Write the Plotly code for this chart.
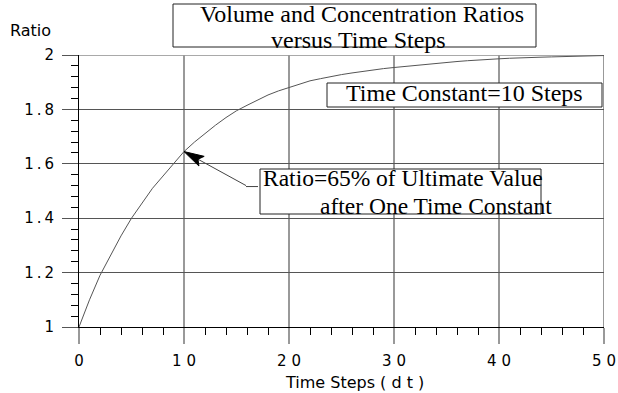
import plotly.graph_objects as go

# ---- data ----
time_steps = [0, 1, 2, 3, 4, 5, 6, 7, 8, 9, 10, 11, 12, 13, 14, 15, 16, 17, 18, 19, 20,
              21, 22, 23, 24, 25, 26, 27, 28, 29, 30, 31, 32, 33, 34, 35, 36, 37, 38, 39, 40,
              41, 42, 43, 44, 45, 46, 47, 48, 49, 50]
ratio = [1.000, 1.100, 1.190, 1.265, 1.335, 1.400, 1.455, 1.510, 1.555, 1.600, 1.645,
         1.680, 1.712, 1.742, 1.770, 1.795, 1.815, 1.835, 1.853, 1.868, 1.880,
         1.893, 1.905, 1.913, 1.921, 1.928, 1.934, 1.940, 1.945, 1.950, 1.954,
         1.958, 1.962, 1.966, 1.970, 1.973, 1.976, 1.979, 1.982, 1.984, 1.986,
         1.988, 1.990, 1.991, 1.992, 1.993, 1.994, 1.995, 1.996, 1.997, 1.998]

x_tick_vals = [0, 10, 20, 30, 40, 50]
x_tick_text = ["0", "1 0", "2 0", "3 0", "4 0", "5 0"]
y_tick_vals = [1, 1.2, 1.4, 1.6, 1.8, 2]
y_tick_text = ["1", "1\u2009.\u20092", "1\u2009.\u20094", "1\u2009.\u20096", "1\u2009.\u20098", "2"]

title_lines = ["Volume and Concentration Ratios", "versus Time Steps"]
tc_label = "Time Constant=10 Steps"
note_lines = ["Ratio=65% of Ultimate Value", "after One Time Constant"]
x_title = "Time Steps ( d t )"
y_title = "Ratio"
marked_step = 10

# ---- layout helpers (pixel -> paper) ----
L, R, T, B = 79, 604, 55, 327
W, H = 618, 393
X_RANGE = [0, 50]
Y_RANGE = [1, 2]


def PX(x):
    return (x - L) / (R - L)


def PY(y):
    return (B - y) / (B - T)


def data_to_px(xv, yv):
    px = L + (xv - X_RANGE[0]) / (X_RANGE[1] - X_RANGE[0]) * (R - L)
    py = B - (yv - Y_RANGE[0]) / (Y_RANGE[1] - Y_RANGE[0]) * (B - T)
    return px, py


SERIF = "Liberation Serif, Times New Roman, serif"
SANS = "DejaVu Sans, Arial, sans-serif"

fig = go.Figure()
fig.add_trace(go.Scatter(x=time_steps, y=ratio, mode="lines",
                         line=dict(color="#555555", width=1), hoverinfo="skip",
                         showlegend=False))

shapes = []
# right and top borders
shapes.append(dict(type="line", xref="x", yref="y", x0=50, x1=50, y0=1, y1=2,
                   line=dict(color="#999999", width=2), layer="below"))
shapes.append(dict(type="line", xref="x", yref="y", x0=0, x1=50, y0=2, y1=2,
                   line=dict(color="#555555", width=1), layer="below"))
# boxes
shapes.append(dict(type="rect", xref="paper", yref="paper", x0=PX(173), x1=PX(536),
                   y0=PY(47), y1=PY(4), line=dict(color="#222222", width=1),
                   fillcolor="white", layer="above"))
shapes.append(dict(type="rect", xref="paper", yref="paper", x0=PX(327), x1=PX(602),
                   y0=PY(107), y1=PY(83), line=dict(color="#222222", width=1),
                   fillcolor="white", layer="above"))
shapes.append(dict(type="rect", xref="paper", yref="paper", x0=PX(260), x1=PX(541),
                   y0=PY(214), y1=PY(169), line=dict(color="#222222", width=1),
                   fillcolor="white", layer="above"))

# arrow: tail mark, shaft and a slim filled head at the marked point
tip_x, tip_y = data_to_px(time_steps[marked_step], ratio[marked_step])
tail_dx, tail_dy = 62, 34
tail_x, tail_y = tip_x + tail_dx, tip_y + tail_dy
shapes.append(dict(type="line", xref="paper", yref="paper", x0=PX(tail_x), x1=PX(tail_x + 12),
                   y0=PY(tail_y + 1), y1=PY(tail_y + 1), line=dict(color="#444444", width=1),
                   layer="above"))
shapes.append(dict(type="line", xref="paper", yref="paper", x0=PX(tail_x), x1=PX(tip_x + 8),
                   y0=PY(tail_y), y1=PY(tip_y + 8 * tail_dy / tail_dx),
                   line=dict(color="#444444", width=1), layer="above"))
norm = (tail_dx ** 2 + tail_dy ** 2) ** 0.5
ux, uy = tail_dx / norm, tail_dy / norm
head_len, head_half = 20, 5.5
bx, by = tip_x + ux * head_len, tip_y + uy * head_len
p1 = (bx - uy * head_half, by + ux * head_half)
p2 = (bx + uy * head_half, by - ux * head_half)
pn = (tip_x + ux * head_len * 0.8, tip_y + uy * head_len * 0.8)
path = "M{},{} L{},{} L{},{} L{},{} Z".format(
    PX(tip_x), PY(tip_y), PX(p1[0]), PY(p1[1]), PX(pn[0]), PY(pn[1]), PX(p2[0]), PY(p2[1]))
shapes.append(dict(type="path", xref="paper", yref="paper", path=path,
                   fillcolor="black", line=dict(color="black", width=1), layer="above"))

annotations = []


def text_ann(text, x, y, xanchor="center", size=24, family=SERIF):
    annotations.append(dict(text=text, x=PX(x), y=PY(y), xref="paper", yref="paper",
                            xanchor=xanchor, yanchor="middle", showarrow=False,
                            font=dict(family=family, size=size, color="black")))


text_ann(title_lines[0], 362, 14)
text_ann(title_lines[1], 358, 40)
text_ann(tc_label, 464, 93)
text_ann(note_lines[0], 261, 178, xanchor="left", size=23.5)
text_ann(note_lines[1], 554, 206, xanchor="right", size=23.5)
text_ann(y_title, 8, 30, xanchor="left", size=16, family=SANS)
text_ann(x_title, 354, 382, size=16, family=SANS)

fig.update_layout(
    width=W, height=H,
    margin=dict(l=L, r=W - R, t=T, b=H - B, autoexpand=False),
    paper_bgcolor="white", plot_bgcolor="white",
    shapes=shapes, annotations=annotations,
    showlegend=False,
)

fig.update_xaxes(range=X_RANGE, tickmode="array", tickvals=x_tick_vals, ticktext=x_tick_text,
                 automargin=False,
                 ticks="outside", ticklen=16, tickwidth=2, tickcolor="#999999",
                 showgrid=True, gridcolor="#999999", gridwidth=2,
                 showline=True, linecolor="black", linewidth=1, zeroline=False,
                 tickfont=dict(family=SANS, size=15, color="black"),
                 ticklabelstandoff=4,
                 minor=dict(tickmode="linear", tick0=0, dtick=2, ticks="outside",
                            ticklen=7, tickcolor="black", tickwidth=1, showgrid=False))
fig.update_yaxes(range=Y_RANGE, tickmode="array", tickvals=y_tick_vals, ticktext=y_tick_text,
                 automargin=False,
                 ticks="outside", ticklen=16, tickwidth=1, tickcolor="#555555",
                 showgrid=True, gridcolor="#555555", gridwidth=1,
                 showline=True, linecolor="black", linewidth=1, zeroline=False,
                 tickfont=dict(family=SANS, size=15, color="black"),
                 ticklabelstandoff=5,
                 minor=dict(tickmode="linear", tick0=1, dtick=0.04, ticks="outside",
                            ticklen=7, tickcolor="black", tickwidth=1, showgrid=False))

fig.write_html("out.html", config={"displayModeBar": False},
               post_script="document.body.style.margin='0';document.body.style.padding='0';")
